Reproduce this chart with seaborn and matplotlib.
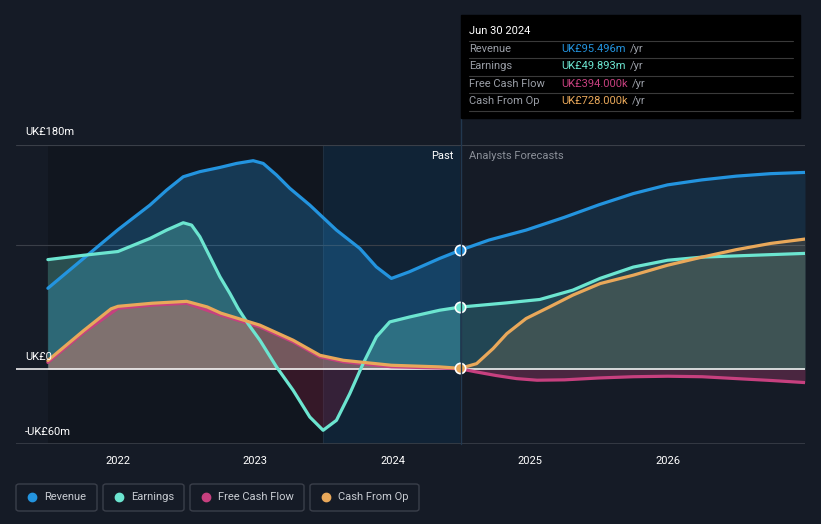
import numpy as np
import pandas as pd
import seaborn as sns
import matplotlib.pyplot as plt
from matplotlib.patches import Rectangle, FancyBboxPatch
from matplotlib.lines import Line2D

sns.set_style("dark")
plt.rcParams['font.family'] = ['Roboto', 'DejaVu Sans']

# data (UK£ m, decimal years)
rev_x = [2021.49, 2021.75, 2022.0, 2022.233, 2022.354, 2022.475, 2022.596, 2022.742, 2022.863, 2022.984,
         2023.057, 2023.154, 2023.251, 2023.396, 2023.5, 2023.59, 2023.76, 2023.88, 2023.99, 2024.12,
         2024.34, 2024.49, 2024.7, 2024.97, 2025.25, 2025.5, 2025.75, 2026.0, 2026.25, 2026.5,
         2026.75, 2027.0]
rev_y = [65, 89, 112, 131.8, 143.8, 154.5, 158.6, 162, 165.2, 167.4,
         165.2, 155.9, 145.2, 131.8, 121, 111.7, 97, 82.2, 72.9, 78.2,
         88.9, 95.5, 103.7, 111.7, 122, 132, 141, 148, 152, 155,
         157, 158]

earn_x = [2021.49, 2021.75, 2022.0, 2022.233, 2022.354, 2022.475, 2022.536, 2022.596, 2022.669, 2022.742,
          2022.815, 2022.875, 2022.95, 2023.033, 2023.154, 2023.275, 2023.396, 2023.493, 2023.59, 2023.687,
          2023.784, 2023.881, 2023.978, 2024.124, 2024.342, 2024.49, 2024.83, 2025.07, 2025.31, 2025.51,
          2025.75, 2026.0, 2026.25, 2026.5, 2026.75, 2027.0]
earn_y = [88, 91.5, 94.5, 105, 111.7, 117.6, 115.7, 106.4, 90.4, 74.3,
          60.8, 48.7, 36, 23.3, 1.9, -16.9, -38.3, -49, -41, -19.6,
          4.5, 26, 38, 42, 47.4, 49.9, 53.3, 56, 63.5, 73,
          82, 87.5, 90, 91, 92, 93]

fcf_x = [2021.49, 2021.75, 2022.0, 2022.25, 2022.5, 2022.75, 2023.033, 2023.275, 2023.47, 2023.64,
         2023.99, 2024.34, 2024.49, 2024.6, 2024.75, 2024.9, 2025.05, 2025.25, 2025.5, 2025.75,
         2026.0, 2026.25, 2026.5, 2026.75, 2027.0]
fcf_y = [5.5, 29.5, 49, 51.5, 53, 43.5, 34, 22, 10, 6,
         2, 1, 0.394, -2, -5, -7.5, -8.8, -8.5, -7, -6,
         -5.6, -6, -7.5, -9, -10.7]

cfo_x = [2021.49, 2021.75, 2021.95, 2022.0, 2022.25, 2022.5, 2022.65, 2022.75, 2023.033, 2023.275,
         2023.47, 2023.64, 2023.99, 2024.34, 2024.49, 2024.61, 2024.73, 2024.83, 2024.97, 2025.14,
         2025.31, 2025.51, 2025.75, 2026.0, 2026.25, 2026.5, 2026.75, 2027.0]
cfo_y = [7, 31, 48.5, 50.5, 53, 54.5, 50, 45, 35.4, 23.3,
         11.2, 7.2, 3.2, 1.9, 0.728, 4.5, 16.6, 28.6, 40.7, 50,
         59.5, 68.8, 75.5, 83.5, 90, 96, 101, 104.5]

names = ['Revenue', 'Earnings', 'Free Cash Flow', 'Cash From Op']
colors = ['#2394df', '#6ce5d0', '#c7407f', '#e9a85a']
tip_values = ['UK£95.496m', 'UK£49.893m', 'UK£394.000k', 'UK£728.000k']
years = [2022, 2023, 2024, 2025, 2026]
now = 2024.49

bg = '#151b26'
W, H = 821, 524
fig = plt.figure(figsize=(8.21, 5.24), dpi=100, facecolor=bg)
ax = fig.add_axes([16 / W, 1 - 444 / H, (805 - 16) / W, (444 - 145) / H])
ax.set_facecolor(bg)
ax.set_xlim(2021.258, 2027.0)
ax.set_ylim(-60, 180)

# background bands
ax.axvspan(2021.49, 2023.49, color='#0b0e14', alpha=0.35, lw=0, zorder=0)
ax.axvspan(2023.49, now, color='#0a3050', alpha=0.4, lw=0, zorder=0)
ax.axvline(2023.49, color='#1f2f40', lw=0.8, zorder=1)

# grid
for v in [180, 100]:
    ax.axhline(v, color='#3a3f48', lw=0.8, zorder=1)
ax.axhline(-60, color='#3a3f48', lw=1.2, zorder=1)

series = [(rev_x, rev_y), (earn_x, earn_y), (fcf_x, fcf_y), (cfo_x, cfo_y)]
for (xs, ys), c, n in zip(series, colors, names):
    xs = np.array(xs)
    ys = np.array(ys)
    past = xs <= now + 1e-6
    fut = xs >= now - 1e-6
    ax.fill_between(xs[past], ys[past], 0, where=ys[past] >= 0, interpolate=True,
                    color=c, alpha=0.28, lw=0, zorder=2)
    ax.fill_between(xs[fut], ys[fut], 0, where=ys[fut] >= 0, interpolate=True,
                    color=c, alpha=0.14, lw=0, zorder=2)
    neg_c = '#8b1e3f' if n == 'Earnings' else c
    ax.fill_between(xs, ys, 0, where=ys <= 0, interpolate=True,
                    color=neg_c, alpha=0.3, lw=0, zorder=2)

ax.axhline(0, color='white', lw=1.1, zorder=3)

for i in [2, 0, 1, 3]:
    xs, ys = series[i]
    df = pd.DataFrame({'x': xs, 'y': ys})
    sns.lineplot(data=df, x='x', y='y', ax=ax, color=colors[i], lw=2.3, zorder=4,
                 solid_joinstyle='round', solid_capstyle='round')

# markers at the current date
for i in [0, 1, 3]:
    xs, ys = series[i]
    ax.scatter([now], [np.interp(now, xs, ys)], s=55, color=colors[i], edgecolor='white',
               linewidth=1.2, zorder=6)

ax.set_xticks(years)
ax.set_xticklabels([str(y) for y in years], color='white', fontsize=8)
ax.set_yticks([])
ax.tick_params(axis='x', length=4, color='#3a3f48', pad=5)
ax.set_xlabel('')
ax.set_ylabel('')
for s in ax.spines.values():
    s.set_visible(False)

# y labels
for label, py in [('UK£180m', 132), ('UK£0', 357), ('-UK£60m', 432)]:
    fig.text(25 / W, 1 - py / H, label, color='white', fontsize=8, va='center')

# past/forecast divider
fig.add_artist(Line2D([461 / W, 461 / W], [1 - 444 / H, 1 - 118 / H], color='#22384f', lw=1))
fig.text(453 / W, 1 - 156 / H, 'Past', color='white', fontsize=8, ha='right', va='center')
fig.text(469 / W, 1 - 156 / H, 'Analysts Forecasts', color='#8a8f98', fontsize=8, va='center')

# tooltip
fig.add_artist(Rectangle((461 / W, 1 - 118 / H), (800 - 461) / W, (118 - 15) / H,
                         transform=fig.transFigure, color='black', zorder=10))
fig.text(469 / W, 1 - 31 / H, 'Jun 30 2024', color='white', fontsize=8, va='center', zorder=11)
for py in [41, 58, 76, 93, 111]:
    fig.add_artist(Line2D([469 / W, 793 / W], [1 - py / H, 1 - py / H], color='#3a3a3a',
                          lw=0.8, zorder=11))
fig.canvas.draw()
rend = fig.canvas.get_renderer()
for n, v, c, py in zip(names, tip_values, colors, [49, 66, 84, 101]):
    fig.text(469 / W, 1 - py / H, n, color='#9a9ea6', fontsize=8, va='center', zorder=11)
    t = fig.text(561 / W, 1 - py / H, v, color=c, fontsize=8, va='center', zorder=11)
    bb = t.get_window_extent(rend)
    fig.text((bb.x1 + 4) / W, 1 - py / H, '/yr', color='#9a9ea6', fontsize=8, va='center', zorder=11)

# legend boxes
for n, c, (x0, x1) in zip(names, colors, [(16, 97), (103, 184), (190, 304), (310, 419)]):
    fig.add_artist(FancyBboxPatch((x0 / W, 1 - 511 / H), (x1 - x0) / W, 27 / H,
                                  boxstyle='round,pad=0,rounding_size=0.004',
                                  transform=fig.transFigure, facecolor=bg,
                                  edgecolor='#3a3f4a', lw=1))
    fig.add_artist(Line2D([(x0 + 16) / W], [1 - 497 / H], marker='o', markersize=6,
                          color=c, lw=0))
    fig.text((x0 + 28) / W, 1 - 497 / H, n, color='#c8ccd2', fontsize=8, va='center')

fig.savefig('out.png', dpi=100, facecolor=bg)
